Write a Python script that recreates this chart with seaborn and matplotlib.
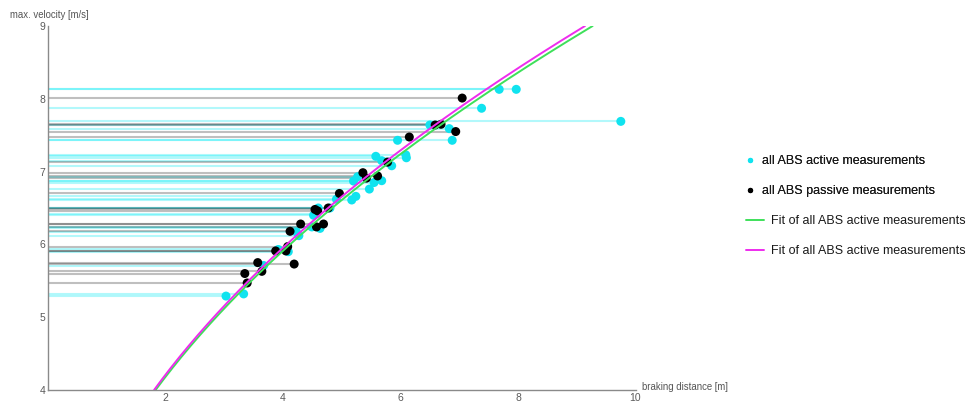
import numpy as np
import pandas as pd
import matplotlib
matplotlib.use("Agg")
import matplotlib.pyplot as plt
from matplotlib.lines import Line2D
from matplotlib.ticker import MultipleLocator
import seaborn as sns

# Braking distance [m] and max. velocity [m/s], ABS active
active_distance = [7.68, 7.97, 7.38, 9.75, 6.50, 6.83, 6.88, 5.95, 5.58, 6.09,
                   6.10, 5.68, 5.85, 5.20, 5.27, 5.55, 5.68, 5.47, 4.91, 5.17,
                   5.24, 4.80, 4.60, 4.52, 4.57, 4.63, 4.49, 4.23, 4.27, 4.09,
                   3.92, 3.67, 3.03, 3.33]
active_velocity = [8.13, 8.13, 7.87, 7.69, 7.64, 7.59, 7.43, 7.43, 7.21, 7.23,
                   7.19, 7.15, 7.08, 6.87, 6.93, 6.85, 6.875, 6.76, 6.62, 6.61,
                   6.66, 6.50, 6.50, 6.40, 6.42, 6.22, 6.24, 6.17, 6.12, 5.90,
                   5.93, 5.71, 5.29, 5.32]

# ABS passive
passive_distance = [3.35, 3.39, 3.57, 3.64, 3.875, 4.05, 4.08, 4.19, 4.12, 4.30,
                    4.545, 4.59, 4.57, 4.69, 4.77, 4.96, 5.36, 5.42, 5.61, 5.78,
                    6.15, 6.59, 6.69, 6.94, 7.05]
passive_velocity = [5.60, 5.47, 5.75, 5.63, 5.91, 5.91, 5.97, 5.73, 6.18, 6.28,
                    6.48, 6.46, 6.24, 6.28, 6.50, 6.70, 6.985, 6.91, 6.94, 7.13,
                    7.475, 7.64, 7.65, 7.55, 8.01]

# Fitted model v = c * sqrt(d)
fit_coefficients = [2.956, 2.977]
fit_labels = ["Fit of all ABS active measurements",
              "Fit of all ABS active measurements"]

x_ticks = [2, 4, 6, 8, 10]
y_ticks = [4, 5, 6, 7, 8, 9]

CYAN = "#10e3ef"
GREEN = "#3ee05a"
MAGENTA = "#ee2cee"

sns.set_style("white")
plt.rcParams["font.family"] = ["Liberation Sans", "DejaVu Sans"]

fig = plt.figure(figsize=(9.66, 4.01), dpi=100)
W, H = 966, 401
ax = fig.add_axes([48 / W, 11 / H, (635.5 - 48) / W, (390 - 26) / H])

active = pd.DataFrame({"distance": active_distance, "velocity": active_velocity})
passive = pd.DataFrame({"distance": passive_distance, "velocity": passive_velocity})

# filling from the velocity axis to every measurement
ax.hlines(active["velocity"], 0, active["distance"], colors=(0.0, 0.92, 0.96, 0.3),
          linewidth=1.5, zorder=1)
ax.hlines(passive["velocity"], 0, passive["distance"], colors=(0.0, 0.0, 0.0, 0.25),
          linewidth=1.5, zorder=1)

sns.scatterplot(data=active, x="distance", y="velocity", color=CYAN, s=42,
                edgecolor="none", ax=ax, zorder=3, legend=False)
sns.scatterplot(data=passive, x="distance", y="velocity", color="black", s=42,
                edgecolor="none", ax=ax, zorder=4, legend=False)

v_grid = np.linspace(4, 9, 200)
for coef, col in zip(fit_coefficients, [GREEN, MAGENTA]):
    curve = pd.DataFrame({"distance": (v_grid / coef) ** 2, "velocity": v_grid})
    sns.lineplot(data=curve, x="distance", y="velocity", color=col, linewidth=1.4,
                 sort=False, estimator=None, ax=ax, zorder=5)

ax.set_xlim(0, 10)
ax.set_ylim(4, 9)
ax.set_xlabel("")
ax.set_ylabel("")
ax.set_xticks(x_ticks)
ax.set_yticks(y_ticks)
ax.xaxis.set_minor_locator(MultipleLocator(0.5))
ax.yaxis.set_minor_locator(MultipleLocator(0.2))
ax.tick_params(which="both", direction="in", color="#8a8a8a", width=0.9,
               labelcolor="#5a5a5a", labelsize=7.5)
ax.tick_params(which="major", length=4, pad=2)
ax.tick_params(which="minor", length=2)
for side in ["top", "right"]:
    ax.spines[side].set_visible(False)
for side in ["left", "bottom"]:
    ax.spines[side].set_color("#8a8a8a")
    ax.spines[side].set_linewidth(1.0)

fig.text(10 / W, 1 - 15 / H, "max. velocity [m/s]", ha="left", va="center",
         fontsize=6.9, color="#555555")
fig.text(642 / W, 1 - 387 / H, "braking distance [m]", ha="left", va="center",
         fontsize=6.9, color="#555555")

point_handles = [
    Line2D([], [], marker="o", ls="", color=CYAN, markersize=2.8),
    Line2D([], [], marker="o", ls="", color="black", markersize=2.8),
]
leg1 = fig.legend(point_handles, ["all ABS active measurements",
                                  "all ABS passive measurements"],
                  loc="upper left", bbox_to_anchor=(745 / W, 1 - 155 / H),
                  frameon=False, borderpad=0, borderaxespad=0, handlelength=0.8,
                  handletextpad=0.6, labelspacing=1.45, fontsize=9.0,
                  labelcolor="#1a1a1a")
fig.add_artist(leg1)
line_handles = [Line2D([], [], color=GREEN, lw=1.4),
                Line2D([], [], color=MAGENTA, lw=1.4)]
fig.legend(line_handles, fit_labels, loc="upper left",
           bbox_to_anchor=(746 / W, 1 - 215 / H), frameon=False, borderpad=0,
           borderaxespad=0, handlelength=1.4, handletextpad=0.6,
           labelspacing=1.45, fontsize=9.0, labelcolor="#1a1a1a")

fig.savefig("out.png", dpi=100)
